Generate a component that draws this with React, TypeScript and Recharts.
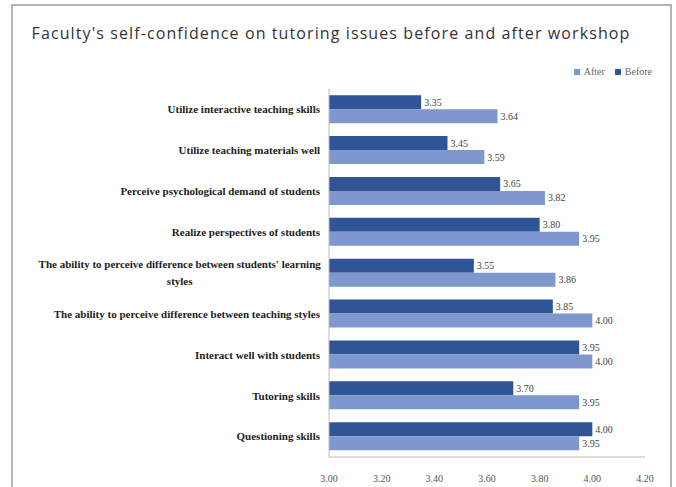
import { BarChart, Bar, XAxis, YAxis, LabelList, Legend } from 'recharts';

const categories = [
  'Utilize interactive teaching skills',
  'Utilize teaching materials well',
  'Perceive psychological demand of students',
  'Realize perspectives of students',
  "The ability to perceive difference between students' learning\nstyles",
  'The ability to perceive difference between teaching styles',
  'Interact well with students',
  'Tutoring skills',
  'Questioning skills',
];
const before = [3.35, 3.45, 3.65, 3.8, 3.55, 3.85, 3.95, 3.7, 4.0];
const after = [3.64, 3.59, 3.82, 3.95, 3.86, 4.0, 4.0, 3.95, 3.95];
const xTicks = [3.0, 3.2, 3.4, 3.6, 3.8, 4.0, 4.2];
const legendOrder = ['After', 'Before'];

const data = categories.map((name, i) => ({ name, Before: before[i], After: after[i] }));

const DARK = '#2f5597';
const LIGHT = '#7e98cd';
const SERIF = 'Liberation Serif, DejaVu Serif, serif';

function CategoryTick(props: any) {
  const { x, y, payload } = props;
  const lines: string[] = String(payload.value).split('\n');
  const right = x - 1;
  if (lines.length === 1) {
    return (
      <text x={right} y={y} dy="0.35em" textAnchor="end" fontFamily={SERIF} fontWeight="bold" fontSize={11} fill="#222">
        {lines[0]}
      </text>
    );
  }
  // wrapped label: lines centred within a right-aligned block
  const longest = Math.max(...lines.map((l) => l.length));
  const cx = right - longest * 2.3;
  const lh = 17;
  const y0 = y - ((lines.length - 1) * lh) / 2;
  return (
    <text textAnchor="middle" fontFamily={SERIF} fontWeight="bold" fontSize={11} fill="#222">
      {lines.map((l, i) => (
        <tspan key={i} x={cx} y={y0 + i * lh} dy="0.35em">
          {l}
        </tspan>
      ))}
    </text>
  );
}

function ValueTick(props: any) {
  const { x, y, payload } = props;
  return (
    <text x={x} y={y} dy="0.71em" textAnchor="middle" fontFamily={SERIF} fontSize={10} fill="#555">
      {Number(payload.value).toFixed(2)}
    </text>
  );
}

function LegendContent(props: any) {
  const byName: Record<string, string> = {};
  (props.payload || []).forEach((it: any) => (byName[it.value] = it.color));
  return (
    <div style={{ display: 'flex', gap: 10, justifyContent: 'flex-end', fontFamily: SERIF, fontSize: 10, color: '#666' }}>
      {legendOrder.map((name) => (
        <span key={name} style={{ display: 'flex', alignItems: 'center', gap: 4 }}>
          <span style={{ width: 6, height: 6, background: byName[name], display: 'inline-block' }} />
          {name}
        </span>
      ))}
    </div>
  );
}

export default function App() {
  return (
    <div style={{ position: 'absolute', left: 0, top: 0, width: 676, height: 487, overflow: 'hidden', background: '#fff' }}>
      <div
        style={{
          position: 'absolute',
          left: 11,
          top: 4,
          width: 661,
          height: 520,
          border: '2px solid #b4b4b4',
          boxSizing: 'border-box',
        }}
      />
      <div
        style={{
          position: 'absolute',
          left: 0,
          top: 22,
          width: 662,
          textAlign: 'center',
          fontFamily: '"Open Sans", "Noto Sans", sans-serif',
          fontSize: 16,
          letterSpacing: 1.1,
          color: '#333',
        }}
      >
        Faculty's self-confidence on tutoring issues before and after workshop
      </div>
      <div style={{ position: 'absolute', left: 0, top: 0 }}>
        <BarChart
          width={676}
          height={487}
          data={data}
          layout="vertical"
          margin={{ top: 78, right: 31, bottom: 0, left: 0 }}
          barCategoryGap="15%"
          barGap={0}
        >
          <XAxis
            type="number"
            domain={[3, 4.2]}
            ticks={xTicks}
            axisLine={{ stroke: '#bbbbbb' }}
            tickLine={false}
            tickMargin={12}
            height={30}
            tick={<ValueTick />}
          />
          <YAxis
            type="category"
            dataKey="name"
            width={329}
            axisLine={{ stroke: '#bbbbbb' }}
            tickLine={false}
            interval={0}
            tick={<CategoryTick />}
          />
          <Legend
            verticalAlign="top"
            align="right"
            content={<LegendContent />}
            wrapperStyle={{ top: 66, right: 24, width: 200, left: 'auto' }}
          />
          <Bar dataKey="Before" fill={DARK} isAnimationActive={false}>
            <LabelList
              dataKey="Before"
              position="right"
              offset={3}
              formatter={(v: any) => Number(v).toFixed(2)}
              fontFamily={SERIF}
              fontSize={10}
              fill="#444"
            />
          </Bar>
          <Bar dataKey="After" fill={LIGHT} isAnimationActive={false}>
            <LabelList
              dataKey="After"
              position="right"
              offset={3}
              formatter={(v: any) => Number(v).toFixed(2)}
              fontFamily={SERIF}
              fontSize={10}
              fill="#444"
            />
          </Bar>
        </BarChart>
      </div>
    </div>
  );
}
